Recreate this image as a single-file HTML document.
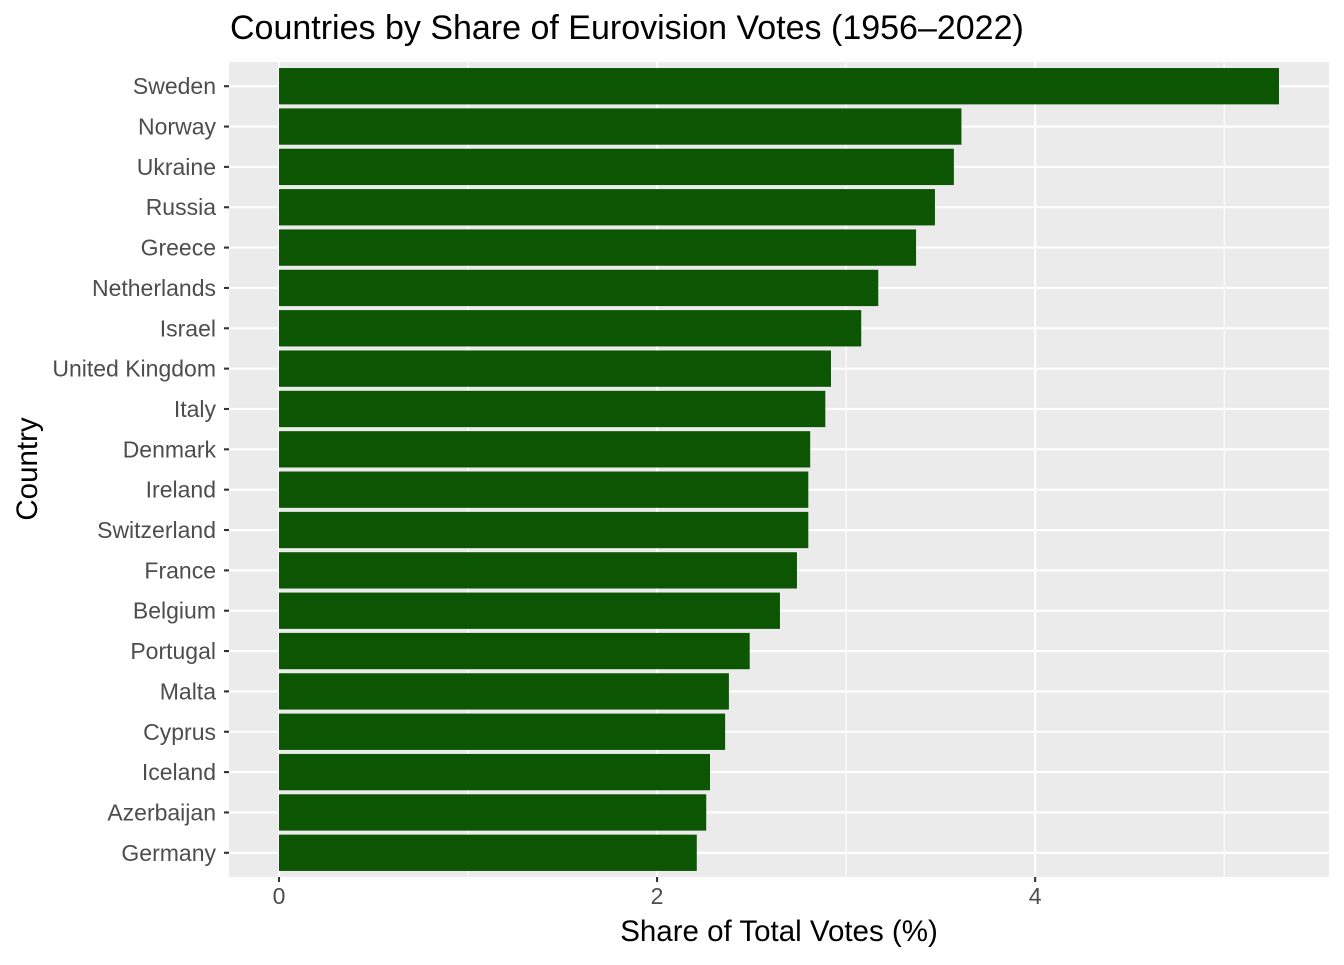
<!DOCTYPE html>
<html><head><meta charset="utf-8"><style>
body{margin:0;background:#fff}
text{font-family:"Liberation Sans",Arial,sans-serif}
</style></head><body>
<svg id="chart" width="1344" height="960" xmlns="http://www.w3.org/2000/svg">
<rect width="1344" height="960" fill="#fff"/>
<text x="230" y="39" style="font-size:34px" fill="#000">Countries by Share of Eurovision Votes (1956–2022)</text>
<g id="panel"></g>
<text x="779" y="941" style="font-size:29.5px" text-anchor="middle" fill="#000">Share of Total Votes (%)</text>
<text transform="translate(37,469) rotate(-90)" style="font-size:29.5px" text-anchor="middle" fill="#000">Country</text>
</svg>
<script>
const countries = ["Sweden","Norway","Ukraine","Russia","Greece","Netherlands","Israel","United Kingdom","Italy","Denmark","Ireland","Switzerland","France","Belgium","Portugal","Malta","Cyprus","Iceland","Azerbaijan","Germany"];
const shares = [5.29,3.61,3.57,3.47,3.37,3.17,3.08,2.92,2.89,2.81,2.80,2.80,2.74,2.65,2.49,2.38,2.36,2.28,2.26,2.21];
const xTicks = [0,2,4];
const xMinor = [1,3,5];

const NS="http://www.w3.org/2000/svg";
const L=229,R=1329,T=62,B=877;
const xmax=Math.max(...shares), pad=xmax*0.05;
const x=v=>L+(v+pad)/(xmax+2*pad)*(R-L);
const n=countries.length, step=(B-T)/(n-1+1.2);
const y=i=>T+step*(0.6+i);
const g=document.getElementById('panel');
const svg=document.getElementById('chart');
function mk(t,a,p){const e=document.createElementNS(NS,t);for(const k in a)e.setAttribute(k,a[k]);(p||g).appendChild(e);return e;}
const bg=mk('rect',{x:L,y:T,width:R-L,height:B-T,fill:'#EBEBEB'});


xMinor.forEach(v=>{if(x(v)<R){const l=mk('line',{x1:x(v),x2:x(v),y1:T,y2:B,stroke:'#fff','stroke-width':1.1});

}});
xTicks.forEach(v=>{const l=mk('line',{x1:x(v),x2:x(v),y1:T,y2:B,stroke:'#fff','stroke-width':2.1});


const tk=mk('line',{x1:x(v),x2:x(v),y1:B,y2:B+5,stroke:'#333','stroke-width':2.1},svg);


const t=mk('text',{x:x(v),y:B+27,style:'font-size:23px','text-anchor':'middle',fill:'#4D4D4D'},svg);
t.textContent=v;

});
countries.forEach((c,i)=>{const l=mk('line',{x1:L,x2:R,y1:y(i),y2:y(i),stroke:'#fff','stroke-width':2.1});

});
countries.forEach((c,i)=>{const h=step*0.9;
const b=mk('rect',{x:x(0),y:y(i)-h/2,width:x(shares[i])-x(0),height:h,fill:'#0B5503'});


const tk=mk('line',{x1:L-5,x2:L,y1:y(i),y2:y(i),stroke:'#333','stroke-width':2.1},svg);


const t=mk('text',{x:L-13,y:y(i)+8,style:'font-size:23px','text-anchor':'end',fill:'#4D4D4D'},svg);
t.textContent=c;

});
</script>
</body></html>
